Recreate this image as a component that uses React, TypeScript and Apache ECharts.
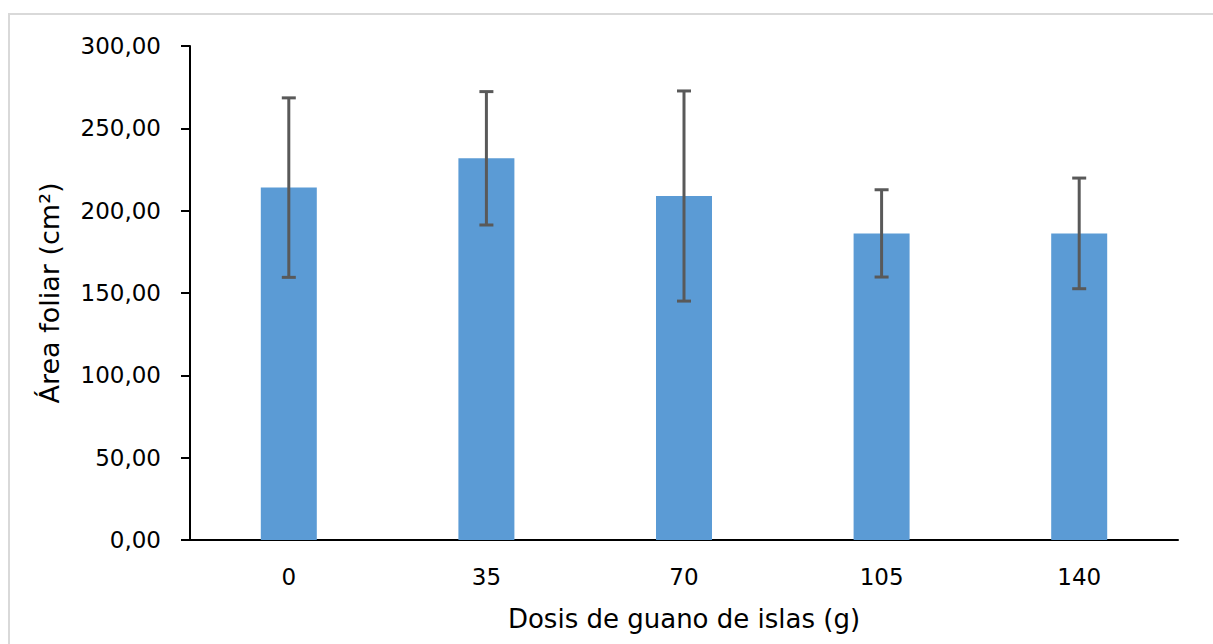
import React, { useEffect, useRef } from "react";
import * as echarts from "echarts";

const categories = ["0", "35", "70", "105", "140"];
const means = [214.0, 231.8, 208.9, 186.2, 186.2];
const errors = [54.5, 40.5, 63.8, 26.5, 33.6];
const yTicks = [0, 50, 100, 150, 200, 250, 300];

const FONT = "'DejaVu Sans', 'Open Sans', sans-serif";

export default function App() {
  const ref = useRef<HTMLDivElement>(null);
  useEffect(() => {
    if (!ref.current) return;
    const chart = echarts.init(ref.current, null, { renderer: "svg" });
    const errData = means.map((m, i) => [i, m - errors[i], m + errors[i]]);
    chart.setOption({
      animation: false,
      backgroundColor: "#ffffff",
      graphic: [
        {
          type: "rect",
          shape: { x: 9, y: 14, width: 1300, height: 700 },
          style: { fill: "none", stroke: "#d9d9d9", lineWidth: 2 },
          silent: true,
        },
      ],
      grid: { left: 190, right: 35, top: 46, bottom: 104 },
      xAxis: {
        type: "category",
        data: categories,
        axisLine: { lineStyle: { color: "#000", width: 2 } },
        axisTick: { show: false },
        axisLabel: { color: "#000", fontSize: 23, fontFamily: FONT, margin: 25 },
        name: "Dosis de guano de islas (g)",
        nameLocation: "middle",
        nameGap: 66,
        nameTextStyle: { color: "#000", fontSize: 26, fontFamily: FONT },
      },
      yAxis: {
        type: "value",
        min: yTicks[0],
        max: yTicks[yTicks.length - 1],
        interval: 50,
        axisLine: { show: true, lineStyle: { color: "#000", width: 2 } },
        axisTick: { show: true, length: 9, lineStyle: { color: "#000", width: 2 } },
        splitLine: { show: false },
        axisLabel: {
          color: "#000",
          fontSize: 23,
          fontFamily: FONT,
          margin: 29,
          formatter: (v: number) => v.toFixed(2).replace(".", ","),
        },
        name: "Área foliar (cm²)",
        nameLocation: "middle",
        nameGap: 127,
        nameTextStyle: { color: "#000", fontSize: 27, fontFamily: FONT },
      },
      series: [
        {
          type: "bar",
          data: means,
          barWidth: 56,
          itemStyle: { color: "#5b9bd5" },
        },
        {
          type: "custom",
          data: errData,
          z: 10,
          renderItem: (params: any, api: any) => {
            const x = api.value(0);
            const lo = api.coord([x, api.value(1)]);
            const hi = api.coord([x, api.value(2)]);
            const hw = 7;
            const style = { stroke: "#595959", lineWidth: 3 };
            return {
              type: "group",
              children: [
                { type: "line", shape: { x1: lo[0], y1: lo[1], x2: hi[0], y2: hi[1] }, style },
                { type: "line", shape: { x1: lo[0] - hw, y1: lo[1], x2: lo[0] + hw, y2: lo[1] }, style },
                { type: "line", shape: { x1: hi[0] - hw, y1: hi[1], x2: hi[0] + hw, y2: hi[1] }, style },
              ],
            };
          },
        },
      ],
    });
    return () => chart.dispose();
  }, []);
  return (
    <div
      ref={ref}
      style={{ position: "absolute", left: 0, top: 0, width: 1213, height: 644 }}
    />
  );
}
